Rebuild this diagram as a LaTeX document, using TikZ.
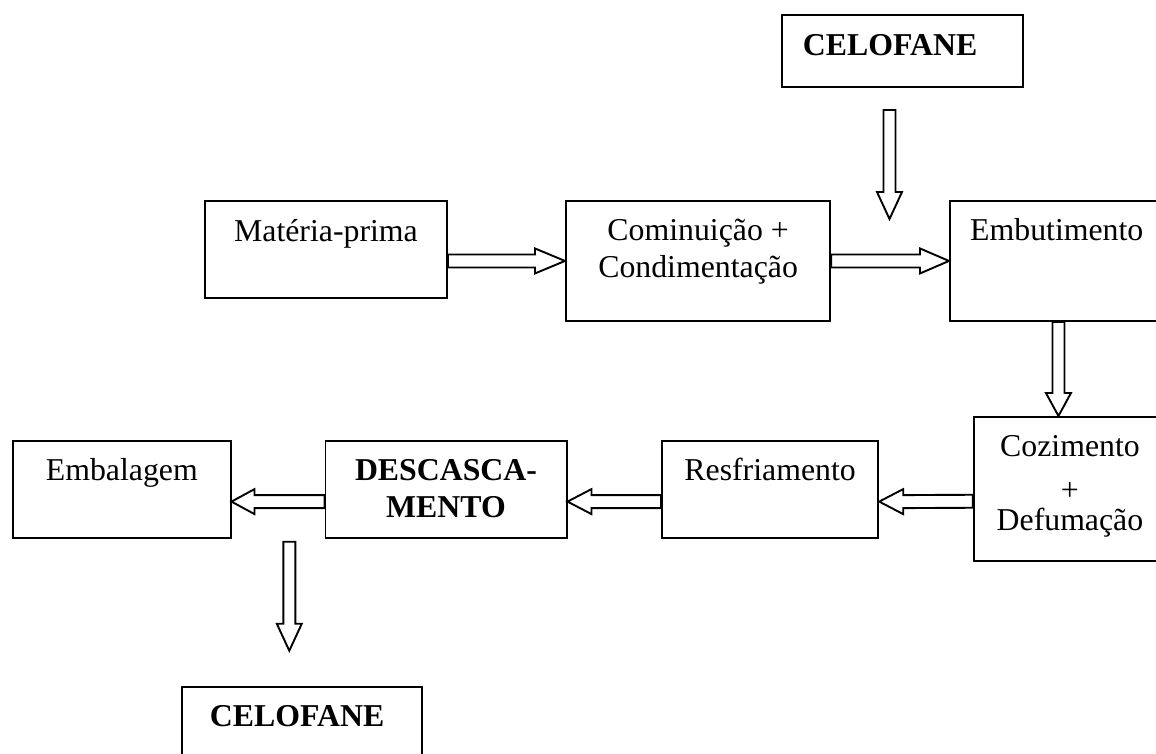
\documentclass[tikz,border=0pt]{standalone}
\usepackage{fontspec}
\setmainfont{Liberation Serif}
\usetikzlibrary{calc}
\tikzset{
  box/.style={draw, line width=1.9pt, inner sep=0pt, anchor=north west},
  lbl/.style={inner sep=0pt, anchor=base, font=\fontsize{31.8}{36.6}\selectfont},
  blbl/.style={lbl, font=\fontsize{31.8}{36.6}\selectfont\bfseries},
  blk/.style={draw, fill=white, line width=1.9pt, line join=miter},
}
\newcommand\arrR[3]{\draw[blk] ($(#1)+(0,-6.5)$) -- ($(#2)+(-#3,-6.5)$) -- ($(#2)+(-#3,-12.5)$) -- (#2) -- ($(#2)+(-#3,12.5)$) -- ($(#2)+(-#3,6.5)$) -- ($(#1)+(0,6.5)$) -- cycle;}
\newcommand\arrL[3]{\draw[blk] ($(#1)+(0,-6.5)$) -- ($(#2)+(#3,-6.5)$) -- ($(#2)+(#3,-12.5)$) -- (#2) -- ($(#2)+(#3,12.5)$) -- ($(#2)+(#3,6.5)$) -- ($(#1)+(0,6.5)$) -- cycle;}
\newcommand\arrD[3]{\draw[blk] ($(#1)+(-6,0)$) -- ($(#2)+(-6,-#3)$) -- ($(#2)+(-12.5,-#3)$) -- (#2) -- ($(#2)+(12.5,-#3)$) -- ($(#2)+(6,-#3)$) -- ($(#1)+(6,0)$) -- cycle;}
\begin{document}
\begin{tikzpicture}[x=1pt, y=-1pt]
\useasboundingbox[fill=white] (0,0) rectangle (1156,753);
\begin{scope}
\clip (0,0) rectangle (1156,753);
% boxes
\node[box, minimum width=241pt, minimum height=72pt] (cel1) at (780.7,14) {};
\node[box, minimum width=242pt, minimum height=96.7pt] (mat) at (204,200) {};
\node[box, minimum width=264.3pt, minimum height=120pt] (com) at (565,200) {};
\node[box, minimum width=217pt, minimum height=120pt] (emb) at (949,200) {};
\node[box, minimum width=192.6pt, minimum height=144pt] (coz) at (972.7,416) {};
\node[box, minimum width=216.3pt, minimum height=96.7pt] (resf) at (661,440) {};
\node[box, minimum width=241.1pt, minimum height=96.7pt] (desc) at (324.5,440) {};
\node[box, minimum width=217.4pt, minimum height=96.7pt] (emba) at (12.2,440) {};
\node[box, minimum width=240.4pt, minimum height=100pt] (cel2) at (180.6,686) {};
% texts
\node[blbl, anchor=base west] (t1) at ($(cel1.north west)+(22,41)$) {CELOFANE};
\node[lbl] (t2) at ($(mat.north)+(0,41.7)$) {Matéria-prima};
\node[lbl] (t3a) at ($(com.north)+(0,40.7)$) {Cominuição +};
\node[lbl] (t3b) at ($(com.north)+(0,77.3)$) {Condimentação};
\node[lbl, anchor=base west] (t4) at ($(emb.north west)+(21,40.7)$) {Embutimento};
\node[lbl] (t5a) at ($(coz.north)+(0,40.7)$) {Cozimento};
\node[lbl] (t5b) at ($(coz.north)+(0,84)$) {+};
\node[lbl] (t5c) at ($(coz.north)+(0,114.7)$) {Defumação};
\node[lbl] (t6) at ($(resf.north)+(0,40.7)$) {Resfriamento};
\node[blbl] (t7a) at ($(desc.north)+(0,40.7)$) {DESCASCA-};
\node[blbl] (t7b) at ($(desc.north)+(0,77.3)$) {MENTO};
\node[lbl] (t8) at ($(emba.north)+(0,40.7)$) {Embalagem};
\node[blbl, anchor=base west] (t9) at ($(cel2.north west)+(29.1,40)$) {CELOFANE};
% arrow endpoints
\coordinate (a1s) at (mat.east |- com.west);
\coordinate (c1a) at (889.5,110);
\coordinate (c1b) at (889.5,219);
\coordinate (a3e) at (emb.south |- coz.north);
\coordinate (a4s) at ($(coz.west)+(0,12.3)$);
\coordinate (a4e) at ($(resf.east)+(0,12.3)$);
\coordinate (a5s) at ($(resf.west)+(0,12.3)$);
\coordinate (a5e) at ($(desc.east)+(0,12.3)$);
\coordinate (a6s) at ($(desc.west)+(0,12.3)$);
\coordinate (a6e) at ($(emba.east)+(0,12.3)$);
\coordinate (c2a) at (289.3,541.7);
\coordinate (c2b) at (289.3,650.7);
% arrows
\arrR{a1s}{com.west}{30}
\arrR{com.east}{emb.west}{29}
\arrD{c1a}{c1b}{27}
\arrD{emb.south}{a3e}{23}
\arrL{a4s}{a4e}{24}
\arrL{a5s}{a5e}{24}
\arrL{a6s}{a6e}{23}
\arrD{c2a}{c2b}{27}
\end{scope}
\end{tikzpicture}
\end{document}
